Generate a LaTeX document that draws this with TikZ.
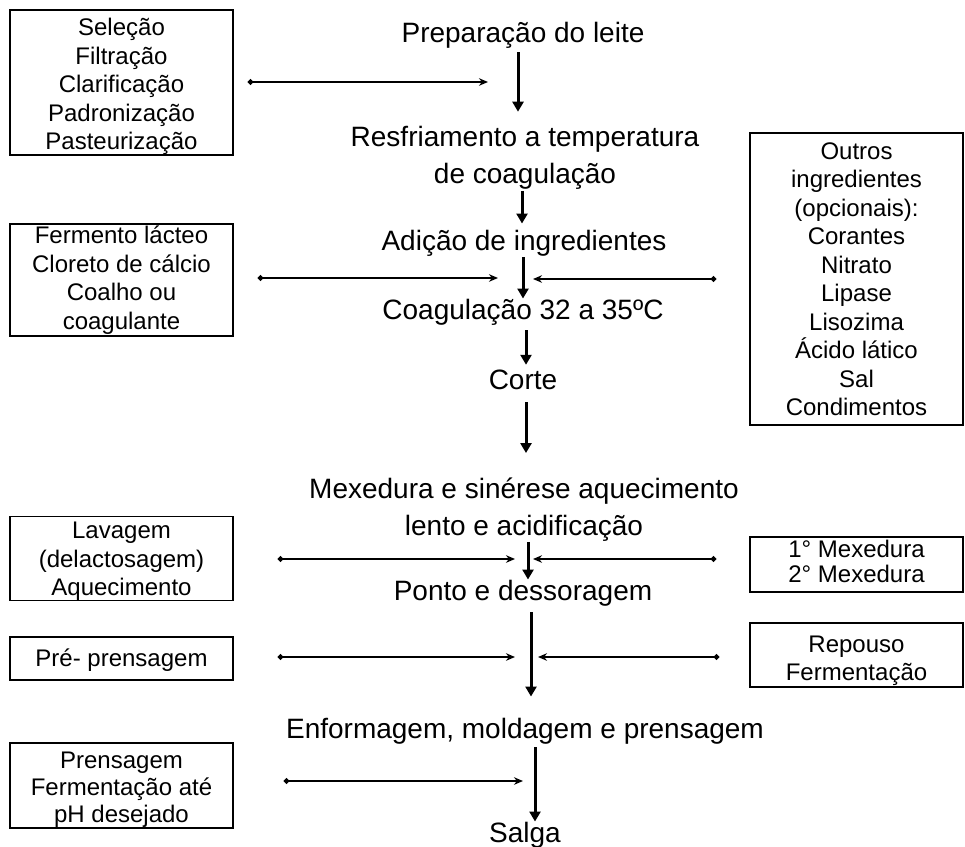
\documentclass[tikz,border=0pt]{standalone}
\usepackage{fontspec}
\setmainfont{Liberation Sans}
\usetikzlibrary{arrows.meta}

\begin{document}
\begin{tikzpicture}[x=1pt, y=-1pt,
  stage/.style={inner sep=0pt, align=center, font=\fontsize{28}{37}\selectfont},
  sidebox/.style={draw, line width=1.5pt, inner sep=0pt, align=center, minimum width=223pt, font=\fontsize{24}{28.5}\selectfont},
  flowarrow/.style={line width=3pt, -{Triangle[length=10pt,width=11pt]}},
  sidearrow/.style={line width=1.6pt, {Circle[length=5.5pt]}-{Stealth[length=9pt,width=7.5pt]}}]
  \useasboundingbox (0,0) rectangle (965,846);

  % main flow
  \node[stage, anchor=base] (prep) at (523,42) {Preparação do leite};
  \node[stage] (resf) at (525,158) {Resfriamento a temperatura\\de coagulação};
  \node[stage, anchor=base] (adic) at (524,250) {Adição de ingredientes};
  \node[stage, anchor=base] (coag) at (523,319) {Coagulação 32 a 35ºC};
  \node[stage, anchor=base] (corte) at (523,389) {Corte};
  \node[stage] (mex) at (524,510) {Mexedura e sinérese aquecimento\\lento e acidificação};
  \node[stage, anchor=base] (ponto) at (523,600) {Ponto e dessoragem};
  \node[stage, anchor=base] (enf) at (525,738) {Enformagem, moldagem e prensagem};
  \node[stage, anchor=base] (salga) at (525,842) {Salga};

  \draw[flowarrow, shorten <=4pt, shorten >=14.5pt] ([xshift=-5pt]prep.south) -- ([xshift=-5pt]prep.south |- resf.north);
  \draw[flowarrow, shorten <=1pt, shorten >=6pt] ([xshift=-3pt]resf.south) -- ([xshift=-3pt]resf.south |- adic.north);
  \draw[flowarrow, shorten <=1pt] ([xshift=-1pt]adic.south) -- ([xshift=-1pt]adic.south |- coag.north);
  \draw[flowarrow, shorten <=5pt, shorten >=4.5pt] ([xshift=3pt]coag.south) -- ([xshift=3pt]coag.south |- corte.north);
  \draw[flowarrow, shorten <=13pt, shorten >=25pt] ([xshift=3pt]corte.south) -- ([xshift=3pt]corte.south |- mex.north);
  \draw[flowarrow, shorten <=0pt] ([xshift=4pt]mex.south) -- ([xshift=4pt]mex.south |- ponto.north);
  \draw[flowarrow, shorten <=6pt, shorten >=21pt] ([xshift=8pt]ponto.south) -- ([xshift=8pt]ponto.south |- enf.north);
  \draw[flowarrow, shorten <=3pt] ([xshift=10pt]enf.south) -- ([xshift=10pt]enf.south |- salga.north);

  % side boxes
  \node[sidebox, minimum height=145pt] (sel) at (121.5,82.5) {\rule{0pt}{26pt}Seleção\\Filtração\\Clarificação\\Padronização\\Pasteurização};
  \node[sidebox, minimum height=112pt] (ferm) at (121.5,280) {Fermento lácteo\\Cloreto de cálcio\\Coalho ou\\coagulante};
  \node[sidebox, minimum width=213pt, minimum height=292pt] (outros) at (856.5,279) {Outros\\ingredientes\\(opcionais):\\Corantes\\Nitrato\\Lipase\\Lisozima\\Ácido lático\\Sal\\Condimentos};
  \node[sidebox, minimum height=83pt] (lav) at (121.5,558.5) {\rule{0pt}{22pt}Lavagem\\(delactosagem)\\Aquecimento};
  \node[sidebox, minimum width=213pt, minimum height=55pt, font=\fontsize{24}{25}\selectfont] (mexbox) at (856.5,564.5) {1° Mexedura\\2° Mexedura\rule[-6pt]{0pt}{6pt}};
  \node[sidebox, minimum height=43pt] (pre) at (121.5,658.5) {\rule{0pt}{21pt}Pré- prensagem};
  \node[sidebox, minimum width=213pt, minimum height=64pt] (rep) at (856.5,655) {\rule{0pt}{28pt}Repouso\\Fermentação};
  \node[sidebox, minimum height=85pt, font=\fontsize{24}{27}\selectfont] (prens) at (121.5,785.5) {\rule{0pt}{24pt}Prensagem\\Fermentação até\\pH desejado};

  % arrow tips next to the main flow
  \coordinate (t1) at (488,82);
  \coordinate (t2) at (498,278);
  \coordinate (t2r) at (533,279);
  \coordinate (t3) at (515,559);
  \coordinate (t3r) at (533,559);
  \coordinate (t4) at (515,657);
  \coordinate (t4r) at (538,657);
  \coordinate (t5) at (523,781);

  \draw[sidearrow, shorten <=14pt] (sel.east |- t1) -- (t1);
  \draw[sidearrow, shorten <=24pt] (ferm.east |- t2) -- (t2);
  \draw[sidearrow, shorten <=33pt] (outros.west |- t2r) -- (t2r);
  \draw[sidearrow, shorten <=44pt] (lav.east |- t3) -- (t3);
  \draw[sidearrow, shorten <=33pt] (mexbox.west |- t3r) -- (t3r);
  \draw[sidearrow, shorten <=44pt] (pre.east |- t4) -- (t4);
  \draw[sidearrow, shorten <=30pt] (rep.west |- t4r) -- (t4r);
  \draw[sidearrow, shorten <=50pt] (prens.east |- t5) -- (t5);
\end{tikzpicture}
\end{document}
